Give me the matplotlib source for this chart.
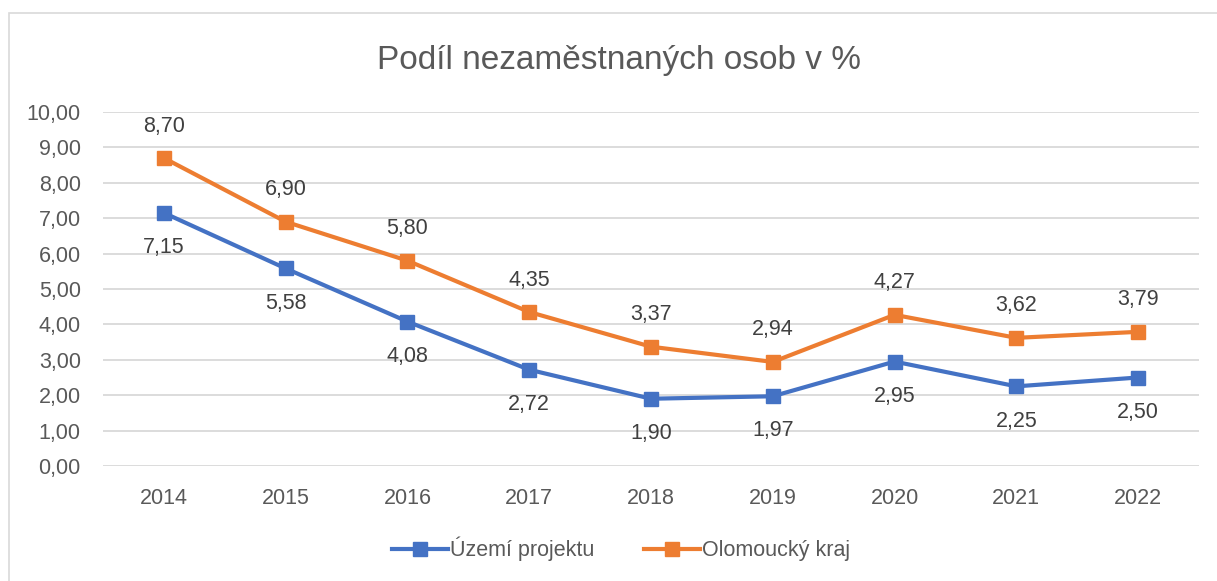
import matplotlib
matplotlib.use('Agg')
import matplotlib.pyplot as plt
from matplotlib.patches import Rectangle

years = ['2014', '2015', '2016', '2017', '2018', '2019', '2020', '2021', '2022']
uzemi = [7.15, 5.58, 4.08, 2.72, 1.90, 1.97, 2.95, 2.25, 2.50]
olomouc = [8.70, 6.90, 5.80, 4.35, 3.37, 2.94, 4.27, 3.62, 3.79]
yticks = [0, 1, 2, 3, 4, 5, 6, 7, 8, 9, 10]

plt.rcParams['font.family'] = ['Liberation Sans', 'DejaVu Sans']

text_col = '#595959'
blue = '#4472C4'
orange = '#ED7D31'

fig = plt.figure(figsize=(12.17, 5.81), dpi=100)
ax = fig.add_axes([103 / 1217, 115 / 581, 1096 / 1217, 354 / 581])

x = range(len(years))
ax.plot(x, uzemi, color=blue, lw=3, marker='s', ms=9.5, label='Území projektu')
ax.plot(x, olomouc, color=orange, lw=3, marker='s', ms=9.5, label='Olomoucký kraj')

def fmt(v):
    return f'{v:.2f}'.replace('.', ',')

for i, v in enumerate(uzemi):
    ax.annotate(fmt(v), (i, v), xytext=(0, -25), textcoords='offset points',
                ha='center', va='center', fontsize=15.5, color='#404040')
for i, v in enumerate(olomouc):
    ax.annotate(fmt(v), (i, v), xytext=(0, 23), textcoords='offset points',
                ha='center', va='center', fontsize=15.5, color='#404040')

ax.set_xlim(-0.5, len(years) - 0.5)
ax.set_ylim(0, 10)
ax.set_xticks(list(x))
ax.set_xticklabels(years)
ax.set_yticks(yticks)
ax.set_yticklabels([fmt(t) for t in yticks])
ax.tick_params(length=0, labelsize=15.5, labelcolor=text_col)
ax.tick_params(axis='x', pad=16)
ax.tick_params(axis='y', pad=16)
ax.grid(axis='y', color='#D9D9D9', lw=1.3)
ax.set_axisbelow(True)
for s in ax.spines.values():
    s.set_visible(False)

fig.text(619 / 1217, 1 - 60 / 581, 'Podíl nezaměstnaných osob v %',
         ha='center', va='center', fontsize=24, color=text_col)

fig.legend(loc='center', bbox_to_anchor=(621 / 1217, 1 - 549 / 581),
           ncol=2, frameon=False, fontsize=15.5, labelcolor=text_col,
           handlelength=2.6, handletextpad=0.1, columnspacing=2.3)

fig.add_artist(Rectangle((8.5 / 1217, -0.05), 1.1, 1.05 - 13 / 581,
                         transform=fig.transFigure, fill=False,
                         edgecolor='#D9D9D9', lw=1.2))

fig.savefig('out.png', dpi=100)
